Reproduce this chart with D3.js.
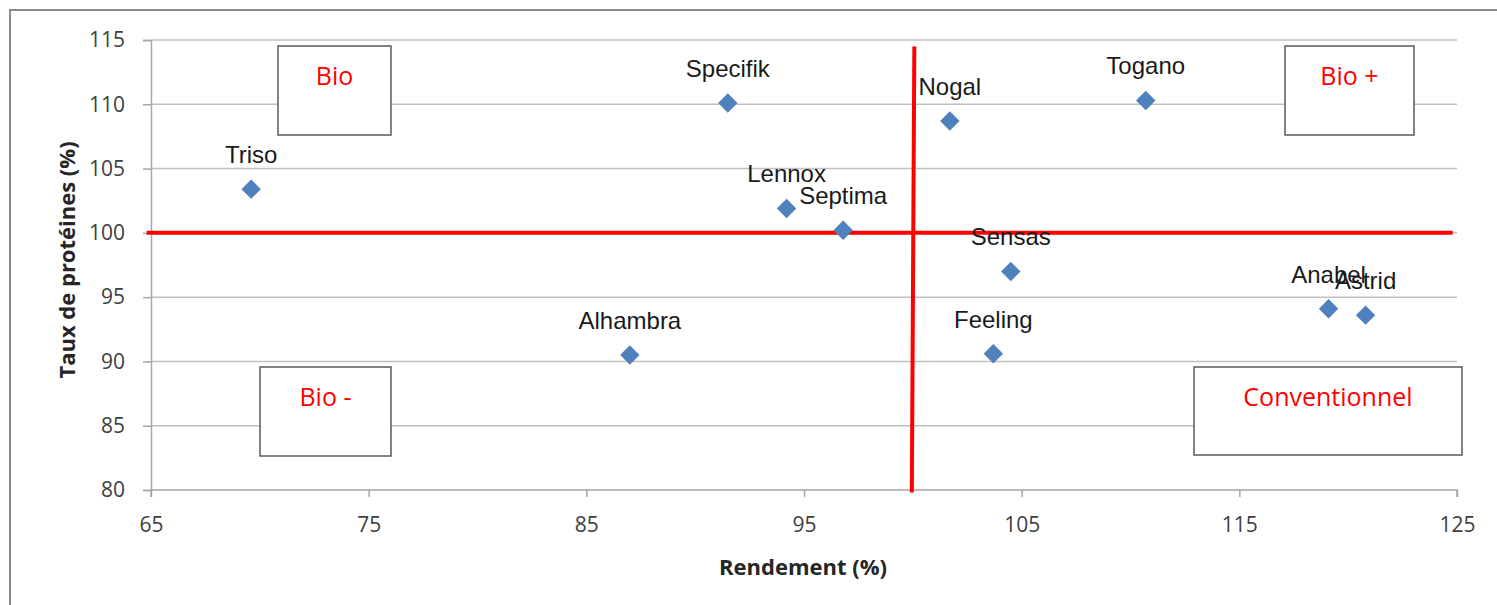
<!DOCTYPE html>
<html>
<head>
<meta charset="utf-8">
<script src="https://cdn.jsdelivr.net/npm/d3@7"></script>
<style>
  body { margin: 0; background: #fff; }
  svg { display: block; }
</style>
</head>
<body>
<div id="chart"></div>
<script>
// varieties, yield (%) and protein rate (%)
var varieties = ['Triso', 'Specifik', 'Nogal', 'Togano', 'Lennox', 'Septima', 'Sensas', 'Feeling', 'Alhambra', 'Anabel', 'Astrid'];
var rendement = [69.6, 91.5, 101.7, 110.7, 94.2, 96.8, 104.5, 103.7, 87.0, 119.1, 120.8];
var proteines = [103.4, 110.1, 108.7, 110.3, 101.9, 100.2, 97.0, 90.6, 90.5, 94.1, 93.6];

var xTicks = [65, 75, 85, 95, 105, 115, 125];
var yTicks = [80, 85, 90, 95, 100, 105, 110, 115];
var refX = 100, refY = 100;
var quadrantLabels = ['Bio', 'Bio +', 'Bio -', 'Conventionnel'];

var width = 1497, height = 605;
var margin = { left: 151, right: 40, top: 40, bottom: 115 };
var uiFont = '"Open Sans", "Liberation Sans", sans-serif';

var svg = d3.select('#chart').append('svg')
  .attr('width', width).attr('height', height);

// outer frame (top and left only visible)
svg.append('path')
  .attr('d', 'M10,' + height + ' V10 H' + width)
  .attr('fill', 'none').attr('stroke', '#8c8c8c').attr('stroke-width', 2);

var x = d3.scaleLinear().domain([65, 125]).range([margin.left, width - margin.right]);
var y = d3.scaleLinear().domain([80, 115]).range([height - margin.bottom, margin.top]);

// horizontal gridlines
svg.append('g').selectAll('line').data(yTicks.slice(1)).enter().append('line')
  .attr('x1', x(65)).attr('x2', x(125))
  .attr('y1', function (d) { return y(d); }).attr('y2', function (d) { return y(d); })
  .attr('stroke', '#c0c0c0').attr('stroke-width', 1.5);

// y axis
var yAxis = svg.append('g')
  .attr('transform', 'translate(' + x(65) + ',0)')
  .call(d3.axisLeft(y).tickValues(yTicks).tickSize(8).tickPadding(18));
// x axis
var xAxis = svg.append('g')
  .attr('transform', 'translate(0,' + y(80) + ')')
  .call(d3.axisBottom(x).tickValues(xTicks).tickSize(7).tickPadding(20));

[xAxis, yAxis].forEach(function (a) {
  a.select('.domain').attr('stroke', '#a6a6a6').attr('stroke-width', 1.5);
  a.selectAll('.tick line').attr('stroke', '#a6a6a6').attr('stroke-width', 1.5);
  a.selectAll('.tick text')
    .attr('fill', '#404040')
    .style('font-family', uiFont)
    .style('font-size', '21px');
});
xAxis.select('.domain').attr('d', 'M' + x(65) + ',7V0H' + x(125) + 'V7');

// axis titles
svg.append('text')
  .attr('x', 803).attr('y', 575)
  .attr('text-anchor', 'middle')
  .style('font-family', uiFont)
  .style('font-size', '22px').style('font-weight', 'bold')
  .attr('fill', '#262626')
  .text('Rendement (%)');

svg.append('text')
  .attr('transform', 'translate(75,' + 260 + ') rotate(-90)')
  .attr('text-anchor', 'middle')
  .style('font-family', uiFont)
  .style('font-size', '22px').style('font-weight', 'bold')
  .attr('fill', '#262626')
  .text('Taux de protéines (%)');

// quadrant boxes
var boxes = [
  { x: 278, y: 46, w: 113, h: 89 },
  { x: 1285, y: 46, w: 129, h: 89 },
  { x: 260, y: 367, w: 131, h: 89 },
  { x: 1194, y: 367, w: 268, h: 88 }
];
var box = svg.append('g').selectAll('g').data(boxes).enter().append('g');
box.append('rect')
  .attr('x', function (d) { return d.x; }).attr('y', function (d) { return d.y; })
  .attr('width', function (d) { return d.w; }).attr('height', function (d) { return d.h; })
  .attr('fill', '#fff').attr('stroke', '#595959').attr('stroke-width', 1.5);
box.append('text')
  .attr('x', function (d) { return d.x + d.w / 2; })
  .attr('y', function (d) { return d.y + 39; })
  .attr('text-anchor', 'middle')
  .attr('fill', '#ff0000')
  .style('font-family', uiFont)
  .style('font-size', '25px')
  .text(function (d, i) { return quadrantLabels[i]; });

// red reference lines
svg.append('line')
  .attr('x1', x(64.8)).attr('x2', x(124.8))
  .attr('y1', y(refY)).attr('y2', y(refY))
  .attr('stroke', '#ff0000').attr('stroke-width', 4);
svg.append('line')
  .attr('x1', x(refX) + 1.5).attr('x2', x(refX) - 1)
  .attr('y1', y(114.5)).attr('y2', y(79.8))
  .attr('stroke', '#ff0000').attr('stroke-width', 4);

// points
var pts = d3.range(varieties.length);
svg.append('g').selectAll('path').data(pts).enter().append('path')
  .attr('transform', function (i) { return 'translate(' + x(rendement[i]) + ',' + y(proteines[i]) + ')'; })
  .attr('d', d3.symbol().type(d3.symbolDiamond2).size(240))
  .attr('fill', '#4f81bd');

// labels above points
svg.append('g').selectAll('text').data(pts).enter().append('text')
  .attr('x', function (i) { return x(rendement[i]); })
  .attr('y', function (i) { return y(proteines[i]) - 26; })
  .attr('text-anchor', 'middle')
  .attr('fill', '#1a1a1a')
  .style('font-family', '"Liberation Sans", Arial, sans-serif')
  .style('font-size', '24px')
  .text(function (i) { return varieties[i]; });
</script>
</body>
</html>
